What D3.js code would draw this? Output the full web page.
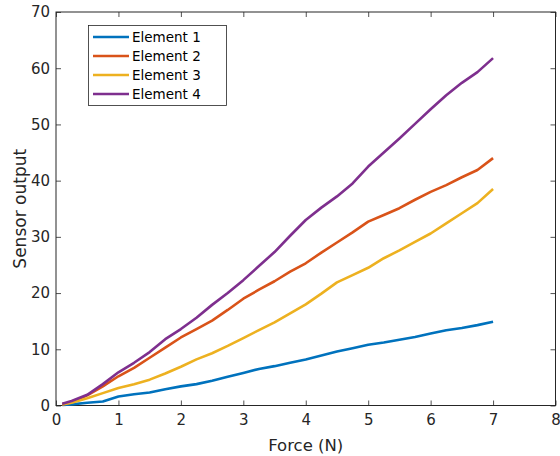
<!DOCTYPE html>
<html><head><meta charset="utf-8">
<script src="https://cdn.jsdelivr.net/npm/d3@7"></script>
<style>body{margin:0;background:#fff}svg{display:block}text{font-family:"DejaVu Sans",Verdana,sans-serif}</style>
</head><body><svg id="c" width="560" height="456"></svg>
<script>
const force = [0.1,0.25,0.5,0.75,1,1.25,1.5,1.75,2,2.25,2.5,2.75,3,3.25,3.5,3.75,4,4.25,4.5,4.75,5,5.25,5.5,5.75,6,6.25,6.5,6.75,7];
const element1 = [0.1,0.2,0.5,0.7,1.6,2.0,2.3,2.9,3.4,3.8,4.4,5.1,5.8,6.5,7.0,7.6,8.2,8.9,9.6,10.2,10.8,11.2,11.7,12.2,12.8,13.4,13.8,14.3,14.9];
const element2 = [0.2,0.6,1.8,3.4,5.2,6.7,8.5,10.3,12.1,13.6,15.1,17.0,19.0,20.6,22.1,23.8,25.3,27.2,29.0,30.8,32.7,33.9,35.1,36.6,38.0,39.2,40.6,41.9,44.0];
const element3 = [0.2,0.5,1.3,2.2,3.1,3.8,4.6,5.7,6.9,8.2,9.3,10.6,12.0,13.4,14.8,16.4,18.0,19.9,21.9,23.2,24.5,26.2,27.6,29.1,30.6,32.4,34.2,36.0,38.5];
const element4 = [0.3,0.8,1.9,3.8,5.9,7.6,9.5,11.8,13.6,15.6,17.9,20.0,22.3,24.8,27.3,30.2,33.0,35.2,37.2,39.5,42.5,45.0,47.5,50.1,52.7,55.2,57.4,59.3,61.8];
const seriesNames = ["Element 1","Element 2","Element 3","Element 4"];
const seriesColors = ["#0072BD","#D95319","#EDB120","#7E2F8E"];
const xTicks = [0,1,2,3,4,5,6,7,8];
const yTicks = [0,10,20,30,40,50,60,70];

const allSeries = [element1,element2,element3,element4];
const L=56,R=555.5,T=12,B=405.5;
const svg=d3.select("#c");
const x=d3.scaleLinear().domain([0,8]).range([L,R]);
const y=d3.scaleLinear().domain([0,70]).range([B,T]);
const axCol="#262626", lineCol="#262626";

function styleAxis(g){
  g.select(".domain").remove();
  g.selectAll(".tick line").attr("stroke",lineCol).attr("stroke-width",0.8);
  g.selectAll(".tick text").attr("fill",axCol).attr("font-size",15);
}
svg.append("g").attr("transform",`translate(0,${B})`)
  .call(d3.axisBottom(x).tickValues(xTicks).tickSize(-5).tickPadding(9).tickFormat(d3.format("d"))).call(styleAxis);
svg.append("g").attr("transform",`translate(0,${T})`)
  .call(d3.axisTop(x).tickValues(xTicks).tickSize(-5).tickFormat("")).call(styleAxis);
svg.append("g").attr("transform",`translate(${L},0)`)
  .call(d3.axisLeft(y).tickValues(yTicks).tickSize(-5).tickPadding(6).tickFormat(d3.format("d"))).call(styleAxis);
svg.append("g").attr("transform",`translate(${R},0)`)
  .call(d3.axisRight(y).tickValues(yTicks).tickSize(-5).tickFormat("")).call(styleAxis);
svg.append("rect").attr("x",L).attr("y",T).attr("width",R-L).attr("height",B-T)
  .attr("fill","none").attr("stroke",lineCol).attr("stroke-width",1);

const line=d3.line().x((d,i)=>x(force[i])).y(d=>y(d));
allSeries.forEach((s,k)=>{
  svg.append("path").datum(s).attr("d",line).attr("fill","none")
    .attr("stroke",seriesColors[k]).attr("stroke-width",2.6).attr("stroke-linejoin","round");
});

svg.append("text").attr("x",(L+R)/2).attr("y",451).attr("text-anchor","middle")
  .attr("font-size",16.5).attr("fill",axCol).text("Force (N)");
svg.append("text").attr("transform",`translate(26,${(T+B)/2}) rotate(-90)`).attr("text-anchor","middle")
  .attr("font-size",17).attr("fill",axCol).text("Sensor output");

const lg=svg.append("g");
lg.append("rect").attr("x",88.5).attr("y",25.5).attr("width",138).attr("height",80)
  .attr("fill","#fff").attr("stroke",lineCol).attr("stroke-width",0.8);
seriesNames.forEach((n,k)=>{
  const yy=37+k*19;
  lg.append("line").attr("x1",93).attr("x2",129).attr("y1",yy).attr("y2",yy)
    .attr("stroke",seriesColors[k]).attr("stroke-width",2.6);
  lg.append("text").attr("x",132).attr("y",yy+5).attr("font-size",13.5).attr("fill","#000").text(n);
});
</script></body></html>
